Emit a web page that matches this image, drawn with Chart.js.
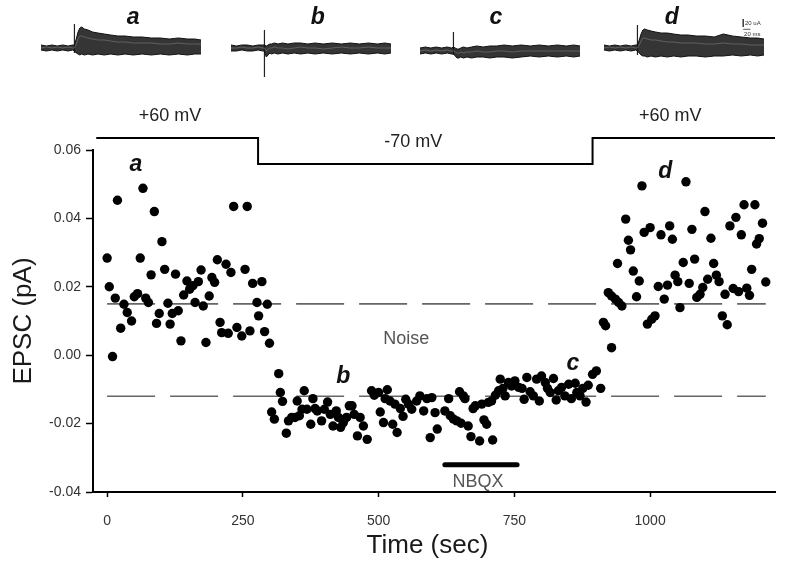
<!DOCTYPE html>
<html><head><meta charset="utf-8">
<script src="https://cdn.jsdelivr.net/npm/chart.js@4.4.1/dist/chart.umd.min.js"></script>
<style>
html,body{margin:0;padding:0;background:#fff;}
#wrap{position:relative;width:795px;height:573px;overflow:hidden;}
#main{position:absolute;left:0;top:0;}
.tr{position:absolute;top:0;}
</style></head><body>
<div id="wrap">
<canvas id="main" width="795" height="573"></canvas>
<canvas id="trA" class="tr" width="160" height="80" style="left:41px"></canvas>
<canvas id="trB" class="tr" width="160" height="80" style="left:231px"></canvas>
<canvas id="trC" class="tr" width="160" height="80" style="left:420px"></canvas>
<canvas id="trD" class="tr" width="160" height="80" style="left:604px"></canvas>
</div>
<script>
// ---------- main scatter data (time in s, EPSC in pA) ----------
const phaseATime = [0,4,10,15,19,25,31,37,45,50,56,61,66,71,76,81,87,91,96,101,106,112,116,120,126,131,136,141,147,152,158,162,168,173,177,182,188,193,198,203,208,211,219,223,228,233,239,248,254,258,263,268,276,279,285,290,295,299];
const phaseAEpsc = [0.0284,0.020,-0.0004,0.0167,0.0453,0.0079,0.0149,0.0125,0.0100,0.0171,0.018,0.0284,0.0488,0.0167,0.0154,0.0235,0.042,0.0093,0.0122,0.0332,0.0251,0.0152,0.0091,0.0122,0.0237,0.013,0.0042,0.0176,0.0217,0.0193,0.0203,0.0154,0.0215,0.0249,0.0144,0.0037,0.0173,0.0227,0.0213,0.0279,0.0096,0.0066,0.0266,0.0064,0.0242,0.0435,0.0081,0.0056,0.0251,0.0435,0.0071,0.0210,0.0154,0.0115,0.0215,0.0069,0.0149,0.0035];

const phaseBTime = [303,308,316,319,323,330,334,340,346,350,354,359,363,368,375,379,383,387,395,400,406,411,416,422,426,430,435,441,446,451,455,461,466,472,479,487,492,500,503,509,512,516,521,526,530,534,540,545,550,555,561,570,576,583,589,595,598,604,608];
const phaseBEpsc = [-0.0166,-0.0187,-0.0054,-0.0109,-0.0135,-0.0228,-0.0192,-0.0182,-0.0182,-0.0134,-0.0177,-0.0158,-0.0104,-0.0158,-0.0202,-0.0127,-0.0156,-0.0163,-0.0192,-0.0158,-0.0137,-0.0173,-0.0207,-0.0163,-0.0182,-0.0211,-0.0197,-0.0182,-0.0148,-0.0148,-0.0173,-0.0236,-0.0182,-0.0207,-0.0246,-0.0104,-0.0117,-0.0109,-0.0166,-0.0197,-0.0127,-0.0101,-0.0134,-0.0202,-0.0143,-0.0226,-0.0156,-0.0179,-0.0129,-0.0143,-0.0158,-0.0134,-0.0119,-0.0163,-0.0127,-0.0241,-0.0124,-0.0168,-0.0216];

const phaseCTime = [622,629,632,638,644,649,652,656,659,665,670,674,678,686,690,694,699,702,708,710,715,721,724,729,733,739,745,751,758,764,768,773,779,785,791,796,800,807,811,816,822,827,831,837,843,850,855,862,865,871,876,882,886,894,901,909];
const phaseCEpsc = [-0.0163,-0.0127,-0.0177,-0.0187,-0.0192,-0.0107,-0.0199,-0.0119,-0.0127,-0.0207,-0.0238,-0.0156,-0.0148,-0.0251,-0.0143,-0.0189,-0.0202,-0.0138,-0.0134,-0.0248,-0.0117,-0.0104,-0.0070,-0.0097,-0.0119,-0.0080,-0.0090,-0.0075,-0.0094,-0.0097,-0.0129,-0.0065,-0.0107,-0.0119,-0.0070,-0.0134,-0.0061,-0.0080,-0.0097,-0.0109,-0.0068,-0.0131,-0.0104,-0.0094,-0.0119,-0.0085,-0.0127,-0.0082,-0.0109,-0.0119,-0.0097,-0.0137,-0.0088,-0.0056,-0.0046,-0.0097];

const phaseDTime = [914,918,923,929,929,936,940,942,948,955,960,964,969,975,980,985,989,995,1000,1003,1009,1015,1020,1026,1032,1036,1041,1046,1051,1055,1061,1066,1072,1077,1082,1086,1092,1097,1101,1106,1112,1117,1122,1127,1133,1138,1142,1147,1153,1158,1163,1168,1173,1178,1183,1187,1193,1196,1201,1207,1213];
const phaseDEpsc = [0.0096,0.0086,0.0183,0.0022,0.0173,0.0164,0.0268,0.0154,0.0144,0.0398,0.0336,0.0308,0.0246,0.0171,0.0217,0.0495,0.0359,0.0091,0.0373,0.0105,0.0115,0.0201,0.0352,0.0164,0.0205,0.0378,0.0339,0.0234,0.0215,0.0139,0.0271,0.0507,0.0210,0.0368,0.0281,0.0169,0.0178,0.0198,0.0420,0.0222,0.0342,0.0268,0.0234,0.0215,0.0115,0.0178,0.0089,0.0378,0.0195,0.0403,0.0186,0.0352,0.0440,0.0196,0.0175,0.0251,0.0440,0.0325,0.0341,0.0386,0.0214];

// noise thresholds
const noiseTime = [0, 1213];
const noiseUpper = [0.015, 0.015];
const noiseLower = [-0.012, -0.012];

// holding potential protocol
const holdTime = [-20, 278, 278, 894, 894, 1230];
const holdMv = [60, 60, -70, -70, 60, 60];
const holdLabelTime = [116, 564, 1037];
const holdLabelText = ['+60 mV', '-70 mV', '+60 mV'];

// NBQX application
const nbqxTime = [622, 755];
const nbqxLevel = [-0.032, -0.032];

// axis ticks
const timeTicks = [0, 250, 500, 750, 1000];
const epscTicks = [-0.04, -0.02, 0.00, 0.02, 0.04, 0.06];

// annotations (data coordinates)
const phaseLabelText = ['a', 'b', 'c', 'd'];
const phaseLabelTime = [53, 435, 858, 1028];
const phaseLabelEpsc = [0.0558, -0.0064, -0.0026, 0.0538];

// ---------- example traces (ms vs deflection) ----------
const traceT = [-37,-31,-25,-19,-13,-7,-2,0,2,4,6,8,11,15,20,26,33,40,48,56,65,75,85,95,105,115,125,133,140];
const traceAUp = [3,2,3,2,3,2,3, 3,9,16,20,21,19,18,16,15,14,13,12,12,11,11,10,10,9,10,9,9,8];
const traceAMid = [0,1,0,1,0,1,0, 0,4,9,12,12,11,10,9,8,8,7,6,6,5,5,5,4,4,5,4,4,4];
const traceALo = [-2,-3,-2,-3,-2,-3,-2, -3,-5,-6,-7,-6,-7,-6,-7,-6,-7,-6,-7,-6,-7,-6,-7,-6,-7,-6,-7,-6,-6];
const traceBUp = [3,2,3,3,2,3,3, 3,2,3,4,4,5,4,5,4,5,5,4,5,4,5,4,5,4,5,4,5,4];
const traceBMid = [0,0,1,0,0,1,0, 0,-3,-1,0,0,1,0,0,-1,0,1,0,0,-1,0,1,0,0,1,0,0,0];
const traceBLo = [-3,-3,-2,-3,-3,-2,-3, -3,-9,-7,-5,-6,-5,-6,-5,-6,-5,-6,-5,-6,-5,-6,-5,-6,-5,-6,-5,-6,-5];
const traceCUp = [0,1,0,1,0,1,0, 1,0,-1,-1,0,1,0,1,2,1,2,2,3,2,3,2,3,2,3,2,3,2];
const traceCMid = [-3,-2,-3,-2,-3,-2,-3, -3,-4,-5,-5,-4,-5,-4,-4,-3,-4,-4,-3,-3,-4,-3,-3,-3,-3,-3,-3,-3,-3];
const traceCLo = [-6,-5,-6,-5,-6,-5,-6, -6,-8,-10,-10,-9,-10,-9,-10,-9,-9,-10,-9,-9,-10,-9,-8,-9,-8,-9,-8,-9,-8];
const traceDUp = [3,2,3,2,3,2,3, 3,8,14,18,19,18,17,16,15,15,14,13,13,12,12,11,14,12,11,10,10,9];
const traceDMid = [0,1,0,1,0,1,0, 0,3,7,10,10,9,8,8,7,6,6,5,5,5,4,4,5,4,4,3,3,3];
const traceDLo = [-2,-3,-2,-3,-2,-3,-2, -3,-5,-7,-8,-8,-9,-8,-9,-8,-9,-8,-9,-8,-8,-9,-8,-8,-7,-8,-7,-8,-7];
const artifactTop = [24, 18, 16, 23];
const artifactBottom = [-5, -29, -7, -7];
const traceLabelTime = [65, 59, 47, 38];
const scaleBarTime = [117, 125];
const scaleBarAmp = [29, 21];

const FONT = '"Liberation Sans", Arial, Helvetica, sans-serif';

function pts(xs, ys) { return xs.map((x, i) => ({x: x, y: ys[i]})); }
function mvToAxis(mv) { return mv > 0 ? 0.0635 : 0.0559; }

const annotPlugin = {
  id: 'annot',
  afterDatasetsDraw(chart) {
    const {ctx, scales: {x, y}} = chart;
    ctx.save();
    ctx.textAlign = 'center';
    ctx.textBaseline = 'middle';
    ctx.fillStyle = '#111';
    ctx.font = 'italic bold 23px ' + FONT;
    phaseLabelText.forEach((t, i) => {
      ctx.fillText(t, x.getPixelForValue(phaseLabelTime[i]), y.getPixelForValue(phaseLabelEpsc[i]));
    });
    ctx.font = '18px ' + FONT;
    ctx.fillStyle = '#222';
    holdLabelText.forEach((t, i) => {
      const yv = i === 1 ? 0.0623 : 0.0699;
      ctx.fillText(t, x.getPixelForValue(holdLabelTime[i]), y.getPixelForValue(yv));
    });
    ctx.fillStyle = '#555';
    ctx.fillText('Noise', x.getPixelForValue(551), y.getPixelForValue(0.0047));
    ctx.fillText('NBQX', x.getPixelForValue(683), y.getPixelForValue(-0.0371));
    // x axis title
    ctx.fillStyle = '#1a1a1a';
    ctx.font = '26px ' + FONT;
    ctx.fillText('Time (sec)', x.getPixelForValue(590), 546);
    ctx.restore();
  }
};

new Chart(document.getElementById('main'), {
  type: 'scatter',
  data: {
    datasets: [
      {
        data: pts(phaseATime, phaseAEpsc).concat(pts(phaseBTime, phaseBEpsc), pts(phaseCTime, phaseCEpsc), pts(phaseDTime, phaseDEpsc)),
        pointRadius: 4.7, pointBackgroundColor: '#000', pointBorderWidth: 0, showLine: false
      },
      {
        type: 'line', data: pts(noiseTime, noiseUpper), borderColor: '#666', borderWidth: 1.6,
        borderDash: [48, 15], pointRadius: 0, fill: false
      },
      {
        type: 'line', data: pts(noiseTime, noiseLower), borderColor: '#666', borderWidth: 1.6,
        borderDash: [48, 15], pointRadius: 0, fill: false
      },
      {
        type: 'line', data: pts(holdTime, holdMv.map(mvToAxis)), borderColor: '#000', borderWidth: 2,
        pointRadius: 0, fill: false, clip: false, tension: 0
      },
      {
        type: 'line', data: pts(nbqxTime, nbqxLevel), borderColor: '#000', borderWidth: 5,
        borderCapStyle: 'round', pointRadius: 0, fill: false
      }
    ]
  },
  options: {
    responsive: false, animation: false, devicePixelRatio: 1,
    layout: {padding: {top: 150, right: 20, left: 0, bottom: 0}},
    plugins: {legend: {display: false}, tooltip: {enabled: false}},
    scales: {
      x: {
        type: 'linear', min: -26, max: 1230,
        afterBuildTicks: s => { s.ticks = timeTicks.map(v => ({value: v})); },
        afterFit: s => { s.height = 81; },
        ticks: {font: {family: FONT, size: 14}, color: '#333', padding: 16, maxRotation: 0, autoSkip: false,
                callback: v => String(v)},
        grid: {drawOnChartArea: false, drawTicks: true, tickLength: 5, tickColor: '#000', tickWidth: 1.5},
        border: {color: '#000', width: 2}
      },
      y: {
        min: -0.04, max: 0.06,
        afterBuildTicks: s => { s.ticks = epscTicks.map(v => ({value: v})); },
        afterFit: s => { s.width = 93; },
        ticks: {font: {family: FONT, size: 14}, color: '#333', padding: 5, callback: v => Number(v).toFixed(2)},
        grid: {drawOnChartArea: false, drawTicks: true, tickLength: 7, tickColor: '#000', tickWidth: 1.5},
        border: {color: '#000', width: 2},
        title: {display: true, text: 'EPSC (pA)', font: {family: FONT, size: 26}, color: '#1a1a1a', padding: {top: 8, bottom: 0}}
      }
    }
  },
  plugins: [annotPlugin]
});

// ---------- example traces ----------
function makeTrace(id, up, mid, lo, idx, withBar) {
  const label = phaseLabelText[idx];
  const sets = [
    {data: pts(traceT, mid), borderColor: 'rgba(140,140,140,0.7)', borderWidth: 0.7, pointRadius: 0, fill: false, tension: 0},
    {data: pts(traceT, lo), borderColor: '#111', borderWidth: 1, pointRadius: 0, fill: false, tension: 0},
    {data: pts(traceT, up), borderColor: '#111', borderWidth: 1, pointRadius: 0, fill: '-1', backgroundColor: 'rgba(25,25,25,0.88)', tension: 0},
    {data: [{x: 0, y: artifactTop[idx]}, {x: 0, y: artifactBottom[idx]}], borderColor: '#222', borderWidth: 1.2, pointRadius: 0, fill: false}
  ];
  if (withBar) {
    sets.push({data: [{x: scaleBarTime[0], y: scaleBarAmp[0]}, {x: scaleBarTime[0], y: scaleBarAmp[1]}], borderColor: '#333', borderWidth: 0.8, pointRadius: 0, fill: false});
    sets.push({data: [{x: scaleBarTime[0], y: 18.7}, {x: scaleBarTime[1], y: 18.7}], borderColor: '#333', borderWidth: 0.8, pointRadius: 0, fill: false});
  }
  new Chart(document.getElementById(id), {
    type: 'line',
    data: {datasets: sets},
    options: {
      responsive: false, animation: false, devicePixelRatio: 1,
      layout: {padding: 0},
      plugins: {legend: {display: false}, tooltip: {enabled: false}},
      scales: {
        x: {type: 'linear', min: -37, max: 140, display: false},
        y: {min: -32, max: 48, display: false}
      }
    },
    plugins: [{
      id: 'lbl' + id,
      afterDatasetsDraw(chart) {
        const {ctx, scales: {x, y}} = chart;
        ctx.save();
        ctx.fillStyle = '#111';
        ctx.textAlign = 'center'; ctx.textBaseline = 'middle';
        ctx.font = 'italic bold 23px ' + FONT;
        ctx.fillText(label, x.getPixelForValue(traceLabelTime[idx]), y.getPixelForValue(30));
        if (withBar) {
          ctx.font = '6px ' + FONT; ctx.textAlign = 'left'; ctx.fillStyle = '#333';
          ctx.fillText('20 uA', x.getPixelForValue(119), y.getPixelForValue(25));
          ctx.fillText('20 ms', x.getPixelForValue(118), y.getPixelForValue(14));
        }
        ctx.restore();
      }
    }]
  });
}
makeTrace('trA', traceAUp, traceAMid, traceALo, 0, false);
makeTrace('trB', traceBUp, traceBMid, traceBLo, 1, false);
makeTrace('trC', traceCUp, traceCMid, traceCLo, 2, false);
makeTrace('trD', traceDUp, traceDMid, traceDLo, 3, true);
</script>
</body></html>
